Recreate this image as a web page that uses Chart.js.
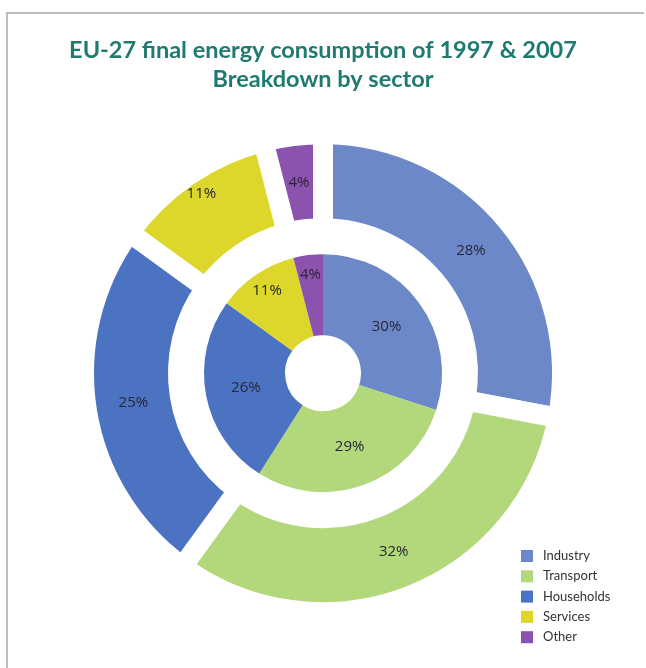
<!DOCTYPE html>
<html>
<head>
<meta charset="utf-8">
<script src="https://cdn.jsdelivr.net/npm/chart.js@4/dist/chart.umd.min.js"></script>
<style>
  html, body { margin: 0; padding: 0; background: #fff; }
  #page { position: relative; width: 646px; height: 668px; overflow: hidden; }
  #frame {
    position: absolute; left: 6px; top: 12px; width: 636px; height: 700px;
    border-top: 2px solid #bdbdbd; border-left: 2px solid #bdbdbd;
  }
  #chart { position: absolute; left: 0; top: 0; }
</style>
</head>
<body>
<div id="page">
  <div id="frame"></div>
  <canvas id="chart" width="646" height="668"></canvas>
</div>
<script>
// Secteurs et parts (%) de la consommation finale d'énergie
const sectors = ['Industry', 'Transport', 'Households', 'Services', 'Other'];
const share2007 = [28, 32, 25, 11, 4];   // anneau extérieur
const share1997 = [30, 29, 26, 11, 4];   // anneau intérieur
const sectorColors = ['#6d88c9', '#b3d77b', '#4c73c1', '#ddd72b', '#8b52ae'];

// Pourcentages dans chaque secteur (les petits secteurs un peu vers l'extérieur)
const sliceLabels = {
  id: 'sliceLabels',
  afterDatasetsDraw(chart) {
    const ctx = chart.ctx;
    ctx.save();
    ctx.font = '15px "Open Sans", sans-serif';
    ctx.fillStyle = '#262636';
    ctx.textAlign = 'center';
    ctx.textBaseline = 'middle';
    chart.data.datasets.forEach((ds, i) => {
      if (ds.spacer) return;
      chart.getDatasetMeta(i).data.forEach((arc, j) => {
        const p = arc.getProps(['x', 'y', 'startAngle', 'endAngle', 'innerRadius', 'outerRadius'], true);
        const a = (p.startAngle + p.endAngle) / 2;
        const v = ds.data[j];
        // anneau extérieur : le secteur très étroit garde son label au milieu
        const f = v < 15 && !(i === 0 && v < 5) ? 0.76 : 0.5;
        const r = p.innerRadius + (p.outerRadius - p.innerRadius) * f;
        ctx.fillText(v + '%', p.x + Math.cos(a) * r, p.y + Math.sin(a) * r);
      });
    });
    ctx.restore();
  }
};

// Légende en bas à droite
const cornerLegend = {
  id: 'cornerLegend',
  afterDraw(chart) {
    const ctx = chart.ctx;
    ctx.save();
    ctx.font = '13px Lato, sans-serif';
    ctx.textBaseline = 'middle';
    ctx.textAlign = 'left';
    chart.data.labels.forEach((label, i) => {
      const y = 556 + i * 20.3;
      ctx.fillStyle = sectorColors[i];
      ctx.fillRect(521, y - 6, 12, 12);
      ctx.fillStyle = '#333';
      ctx.fillText(label, 543, y);
    });
    ctx.restore();
  }
};

new Chart(document.getElementById('chart'), {
  type: 'doughnut',
  data: {
    labels: sectors,
    datasets: [
      {
        label: '2007',
        data: share2007,
        backgroundColor: sectorColors,
        borderColor: '#ffffff',
        borderWidth: 20,
        weight: 94
      },
      {
        // anneau vide entre les deux années
        spacer: true,
        data: [1],
        backgroundColor: 'rgba(0,0,0,0)',
        borderWidth: 0,
        weight: 26
      },
      {
        label: '1997',
        data: share1997,
        backgroundColor: sectorColors,
        borderWidth: 0,
        weight: 81
      }
    ]
  },
  options: {
    responsive: false,
    devicePixelRatio: 1,
    animation: false,
    events: [],
    radius: 239,
    cutout: '15.9%',
    layout: { padding: { top: 0, bottom: 26, left: 0, right: 0 } },
    plugins: {
      legend: { display: false },
      tooltip: { enabled: false },
      title: {
        display: true,
        text: ['EU-27 final energy consumption of 1997 & 2007', 'Breakdown by sector'],
        color: '#1f7a70',
        font: { family: 'Lato', size: 23.5, weight: 'bold', lineHeight: 1.24 },
        padding: { top: 36, bottom: 10 }
      }
    }
  },
  plugins: [sliceLabels, cornerLegend]
});
</script>
</body>
</html>
